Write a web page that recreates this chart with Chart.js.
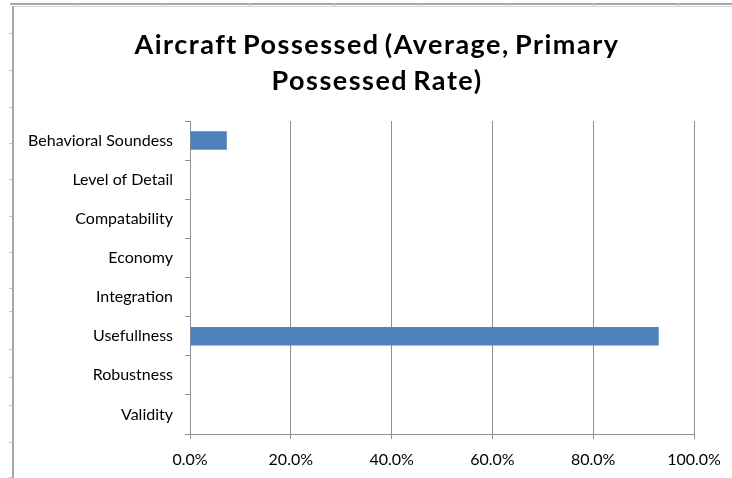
<!DOCTYPE html>
<html>
<head>
<meta charset="utf-8">
<script src="https://cdn.jsdelivr.net/npm/chart.js@4"></script>
<style>
  html, body { margin: 0; padding: 0; background: #fff; width: 732px; height: 478px; overflow: hidden; }
  .sheet-top { position: absolute; left: 10px; top: 3px; width: 722px; height: 2px; background: #a8a8a8; }
  .sheet-top2 { position: absolute; left: 12px; top: 6px; width: 720px; height: 1px; background: #d4d4d4; }
  .sheet-left { position: absolute; left: 12px; top: 6px; width: 2px; height: 472px; background: #a8a8a8; }
  .col-mark { position: absolute; top: 3px; width: 1px; height: 3px; background: #c8c8c8; }
  .row-mark { position: absolute; left: 9px; width: 3px; height: 1px; background: #c4c4dc; }
  #wrap { position: absolute; left: 14px; top: 7px; width: 726px; height: 471px; }
  #title {
    position: absolute; left: 14px; top: 26px; width: 726px;
    text-align: center; font-family: Lato, sans-serif; font-weight: bold;
    font-size: 27px; line-height: 36px; letter-spacing: 1.5px; word-spacing: -3px; color: #000;
  }
</style>
</head>
<body>
<div class="sheet-top"></div>
<div class="sheet-top2"></div>
<div class="sheet-left"></div>
<div id="marks"></div>
<div id="wrap"><canvas id="chart" width="726" height="471"></canvas></div>
<div id="title"></div>
<script>
// Worksheet cell borders around the embedded chart
const colEdges = [76, 162, 249, 335, 421, 507, 593, 678];
const rowEdges = [33, 70, 107, 143, 179, 216, 252, 288, 311, 349, 377, 405, 442, 477];
const marks = document.getElementById('marks');
colEdges.forEach(x => {
  const d = document.createElement('div');
  d.className = 'col-mark'; d.style.left = x + 'px'; marks.appendChild(d);
});
rowEdges.forEach(y => {
  const d = document.createElement('div');
  d.className = 'row-mark'; d.style.top = y + 'px'; marks.appendChild(d);
});

// Chart data
const categories = [
  'Behavioral Soundess',
  'Level of Detail',
  'Compatability',
  'Economy',
  'Integration',
  'Usefullness',
  'Robustness',
  'Validity'
];
const possessedRate = [7.3, 0, 0, 0, 0, 93.0, 0, 0];
const titleLines = ['Aircraft Possessed (Average, Primary', 'Possessed Rate)'];
const xTickValues = [0, 20, 40, 60, 80, 100];

// Chart title, centred over the whole chart object
const titleEl = document.getElementById('title');
titleLines.forEach((line, i) => {
  if (i) titleEl.appendChild(document.createElement('br'));
  titleEl.appendChild(document.createTextNode(line));
});

const gridColor = '#8f8f8f';
const labelFont = { family: 'Lato', size: 16 };

new Chart(document.getElementById('chart'), {
  type: 'bar',
  data: {
    labels: categories,
    datasets: [{
      data: possessedRate,
      backgroundColor: '#4f81bd',
      borderWidth: 0,
      categoryPercentage: 1,
      barPercentage: 0.47
    }]
  },
  options: {
    indexAxis: 'y',
    responsive: false,
    animation: false,
    layout: { padding: { left: 0, right: 46, top: 114, bottom: 0 } },
    plugins: {
      legend: { display: false },
      tooltip: { enabled: false },
      title: { display: false }
    },
    scales: {
      x: {
        min: 0,
        max: 100,
        afterBuildTicks: scale => { scale.ticks = xTickValues.map(v => ({ value: v })); },
        afterFit: scale => { scale.height = 44; },
        ticks: {
          color: '#000',
          font: labelFont,
          padding: 11,
          maxRotation: 0,
          callback: v => v.toFixed(1) + '%'
        },
        grid: { color: gridColor, lineWidth: 1, tickLength: 5, drawTicks: true },
        border: { display: true, color: gridColor, width: 1 }
      },
      y: {
        afterFit: scale => { scale.width = 176; },
        ticks: { color: '#000', font: labelFont, padding: 12 },
        grid: { offset: true, drawOnChartArea: false, color: gridColor, tickLength: 5 },
        border: { display: true, color: gridColor, width: 1 }
      }
    }
  }
});
</script>
</body>
</html>
